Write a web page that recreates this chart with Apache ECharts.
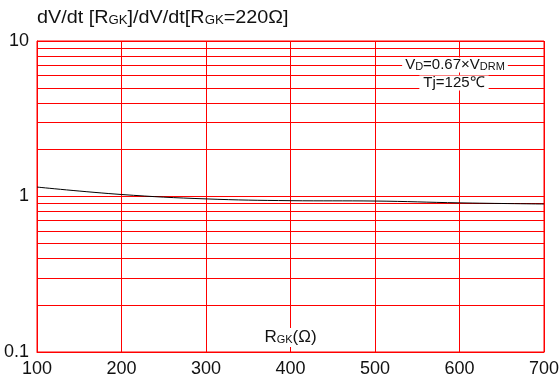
<!DOCTYPE html>
<html>
<head>
<meta charset="utf-8">
<script src="https://cdn.jsdelivr.net/npm/echarts@6/dist/echarts.min.js"></script>
<style>
  html, body { margin: 0; padding: 0; background: #fff; }
  #chart { width: 560px; height: 380px; }
</style>
</head>
<body>
<div id="chart"></div>
<script>
// Gate resistance (Ω) and relative dV/dt ratio
const rgk = [100, 200, 300, 400, 500, 600, 700];
const ratio = [1.15, 1.03, 0.965, 0.94, 0.935, 0.91, 0.895];

// Axis ticks
const xTicks = { min: 100, max: 700, step: 100 };
const yTickLabels = { 0.1: '0.1', 1: '1', 10: '10' };
// Minor log grid lines (2..9 in each decade)
const minorLines = [0.2, 0.3, 0.4, 0.5, 0.6, 0.7, 0.8, 0.9, 2, 3, 4, 5, 6, 7, 8, 9];

const RED = '#ff0000';
const INK = '#111';
const FONT = 'Liberation Sans, Arial, sans-serif';

const chart = echarts.init(document.getElementById('chart'), null, { renderer: 'canvas' });

chart.setOption({
  animation: false,
  backgroundColor: '#fff',
  textStyle: { fontFamily: FONT },
  grid: {
    left: 37, right: 16, top: 41, bottom: 28,
    show: true, borderColor: RED, borderWidth: 1,
    containLabel: false, outerBoundsMode: 'none'
  },
  xAxis: {
    type: 'value',
    min: xTicks.min,
    max: xTicks.max,
    interval: xTicks.step,
    name: 'R{s|GK}(Ω)',
    nameLocation: 'middle',
    nameGap: -24,
    nameMoveOverlap: false,
    nameTextStyle: {
      color: INK, fontSize: 17, fontFamily: FONT,
      backgroundColor: '#fff', padding: [1, 2, 1, 2],
      rich: { s: { fontSize: 11, color: INK, fontFamily: FONT, padding: [4, 0, 0, 0] } }
    },
    axisLine: { lineStyle: { color: RED } },
    axisTick: { show: false },
    axisLabel: { color: INK, fontSize: 18, margin: 8, fontFamily: FONT },
    splitLine: { show: true, lineStyle: { color: RED, width: 1 } }
  },
  yAxis: {
    type: 'log',
    logBase: 10,
    min: 0.1,
    max: 10,
    axisLine: { show: true, lineStyle: { color: RED } },
    axisTick: { show: false },
    axisLabel: {
      color: INK, fontSize: 18, margin: 8, fontFamily: FONT,
      formatter: v => yTickLabels[+v.toPrecision(3)] ?? ''
    },
    splitLine: { show: true, lineStyle: { color: RED, width: 1 } }
  },
  graphic: [
    {
      type: 'text', x: 37, y: 9, scaleX: 1.1,
      style: {
        text: 'dV/dt [R{s|GK}]/dV/dt[R{s|GK}=220Ω]',
        fill: INK, font: '18px ' + FONT,
        rich: {
          s: { fontSize: 12, fill: INK, fontFamily: FONT, padding: [5, 0, 0, 0] }
        }
      }
    },
    {
      type: 'text', x: 455, y: 65, z: 10,
      style: {
        text: 'V{s|D}=0.67×V{s|DRM}',
        fill: INK, font: '15px ' + FONT,
        align: 'center', verticalAlign: 'middle',
        backgroundColor: '#fff', padding: [0, 3, 0, 3],
        rich: { s: { fontSize: 11, fill: INK, fontFamily: FONT, padding: [3, 0, 0, 0] } }
      }
    },
    {
      type: 'text', x: 454, y: 83, z: 10,
      style: {
        text: 'Tj=125℃',
        fill: INK, font: '15px ' + FONT,
        align: 'center', verticalAlign: 'middle',
        backgroundColor: '#fff', padding: [0, 4, 0, 4]
      }
    }
  ],
  series: [
    {
      type: 'line',
      data: rgk.map((x, i) => [x, ratio[i]]),
      smooth: 0.4,
      symbol: 'none',
      lineStyle: { color: '#000', width: 1 },
      z: 5,
      markLine: {
        silent: true,
        symbol: 'none',
        label: { show: false },
        lineStyle: { color: RED, type: 'solid', width: 1 },
        data: minorLines.map(v => ({ yAxis: v }))
      }
    }
  ]
});
</script>
</body>
</html>
